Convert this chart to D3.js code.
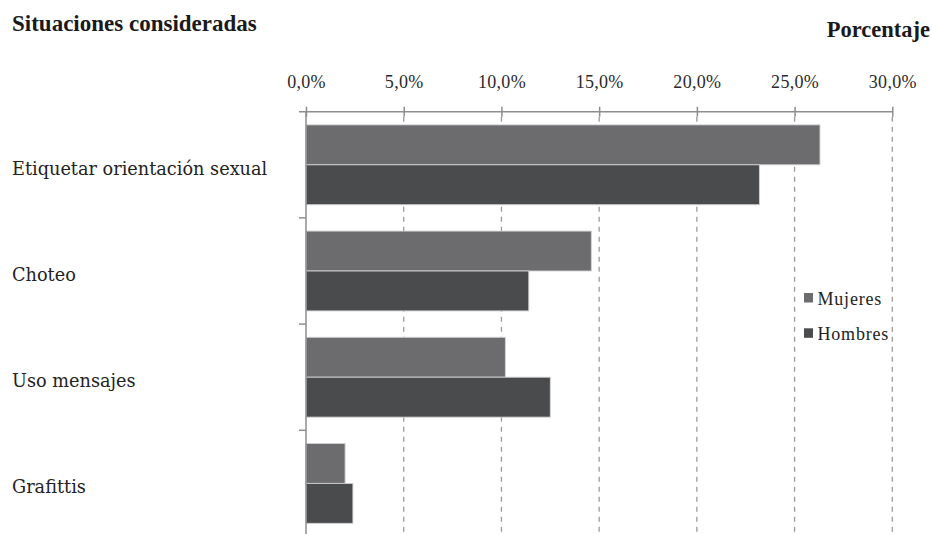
<!DOCTYPE html>
<html>
<head>
<meta charset="utf-8">
<script src="https://cdn.jsdelivr.net/npm/d3@7"></script>
<style>
  html, body { margin: 0; padding: 0; background: #fff; }
  svg { display: block; }
</style>
</head>
<body>
<svg id="chart" width="932" height="534"></svg>
<script>
// Situaciones consideradas, porcentaje por sexo
const categories = ["Etiquetar orientación sexual", "Choteo", "Uso mensajes", "Grafittis"];
const seriesNames = ["Mujeres", "Hombres"];
const mujeres = [26.3, 14.6, 10.2, 2.0];
const hombres = [23.2, 11.4, 12.5, 2.4];
const xTicks = [0, 5, 10, 15, 20, 25, 30];

const colors = { Mujeres: "#6c6c6e", Hombres: "#4a4b4d" };
const axisColor = "#8e8e8e";

const rows = categories.map((c, i) => ({ category: c, Mujeres: mujeres[i], Hombres: hombres[i] }));

const svg = d3.select("#chart");
const W = 932, H = 534;
svg.append("rect").attr("width", W).attr("height", H).attr("fill", "#fff");

const plot = { left: 306, right: 892.3, top: 111.7, bottom: 536.5 };

const x = d3.scaleLinear().domain([0, 30]).range([plot.left, plot.right]);
const y0 = d3.scaleBand().domain(categories).range([plot.top, plot.bottom]).padding(0);
const y1 = d3.scaleBand().domain(seriesNames).range([0, y0.bandwidth()])
  .paddingInner(0).paddingOuter(0.33);

const esLocale = d3.formatLocale({ decimal: ",", thousands: ".", grouping: [3], currency: ["", " €"] });
const fmt = v => esLocale.format(".1f")(v) + "%";

// dashed vertical gridlines (behind bars)
svg.append("g")
  .selectAll("line")
  .data(xTicks.filter(t => t > 0))
  .join("line")
  .attr("x1", d => x(d)).attr("x2", d => x(d))
  .attr("y1", plot.top + 5).attr("y2", plot.bottom)
  .attr("stroke", "#9a9a9a")
  .attr("stroke-width", 1.3)
  .attr("stroke-dasharray", "5,5");

// bars
const groups = svg.append("g")
  .selectAll("g")
  .data(rows)
  .join("g")
  .attr("transform", d => `translate(0,${y0(d.category)})`);

groups.selectAll("rect")
  .data(d => seriesNames.map(s => ({ key: s, value: d[s] })))
  .join("rect")
  .attr("x", x(0))
  .attr("y", d => y1(d.key))
  .attr("width", d => x(d.value) - x(0))
  .attr("height", y1.bandwidth())
  .attr("fill", d => colors[d.key])
  .attr("stroke", "#d2d2d2")
  .attr("stroke-width", 0.9);

// top value axis
const xAxis = d3.axisTop(x).tickValues(xTicks).tickFormat(fmt).tickSizeInner(5).tickSizeOuter(0);
const gx = svg.append("g").attr("transform", `translate(0,${plot.top})`).call(xAxis);
gx.select(".domain").attr("stroke", axisColor).attr("stroke-width", 1.5)
  .attr("d", `M${plot.left - 7},0H${plot.right}`);
gx.selectAll(".tick line").attr("stroke", axisColor).attr("stroke-width", 1.5)
  .attr("y1", -5).attr("y2", 5);
gx.selectAll(".tick text")
  .attr("y", -23.5).attr("dy", 0)
  .attr("fill", "#2a2a2a")
  .style("font-family", "'Liberation Serif', 'Times New Roman', serif")
  .style("font-size", "18px")
  .style("letter-spacing", "0.3px");

// left category axis: line with ticks at band boundaries
const gy = svg.append("g");
gy.append("line")
  .attr("x1", plot.left).attr("x2", plot.left)
  .attr("y1", plot.top).attr("y2", plot.bottom)
  .attr("stroke", axisColor).attr("stroke-width", 1.5);
gy.selectAll("line.sep")
  .data(categories.slice(1))
  .join("line")
  .attr("class", "sep")
  .attr("x1", plot.left - 7).attr("x2", plot.left)
  .attr("y1", d => y0(d)).attr("y2", d => y0(d))
  .attr("stroke", axisColor).attr("stroke-width", 1.5);

// category labels
svg.append("g")
  .selectAll("text")
  .data(categories)
  .join("text")
  .attr("x", 12)
  .attr("y", d => y0(d) + y0.bandwidth() / 2 + 4)
  .attr("dominant-baseline", "central")
  .attr("fill", "#222")
  .style("font-family", "'DejaVu Serif', serif")
  .style("font-size", "17.7px")
  .text(d => d);

// headings
svg.append("text")
  .attr("x", 12).attr("y", 31)
  .attr("fill", "#1a1a1a")
  .style("font-family", "'Liberation Serif', serif")
  .style("font-weight", "bold")
  .style("font-size", "23px")
  .text("Situaciones consideradas");

svg.append("text")
  .attr("x", 930).attr("y", 37)
  .attr("text-anchor", "end")
  .attr("fill", "#1a1a1a")
  .style("font-family", "'Liberation Serif', serif")
  .style("font-weight", "bold")
  .style("font-size", "22.5px")
  .text("Porcentaje");

// legend
const legend = svg.append("g").attr("transform", "translate(804,293)");
const li = legend.selectAll("g")
  .data(seriesNames)
  .join("g")
  .attr("transform", (d, i) => `translate(0,${i * 35.3})`);
li.append("rect")
  .attr("width", 9).attr("height", 9.5)
  .attr("fill", d => colors[d]);
li.append("text")
  .attr("x", 13.5).attr("y", 12)
  .attr("fill", "#222")
  .style("font-family", "'Liberation Serif', 'Times New Roman', serif")
  .style("font-size", "18px")
  .style("letter-spacing", "0.8px")
  .text(d => d);
</script>
</body>
</html>
